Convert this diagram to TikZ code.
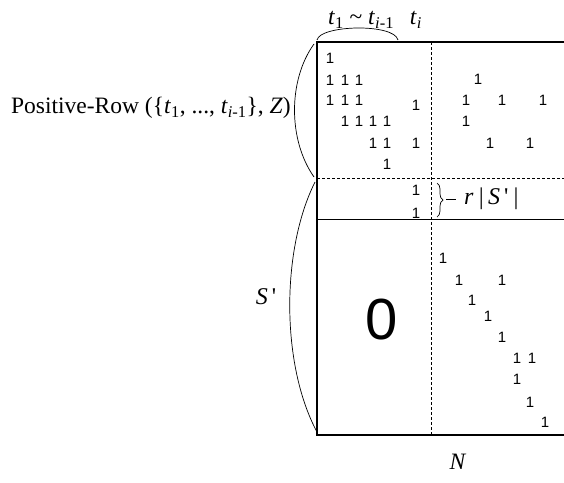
\documentclass[tikz,border=0pt]{standalone}
\usepackage{fontspec}
\setmainfont{Liberation Serif}
\newfontfamily\onesfont{Liberation Sans}
\usetikzlibrary{decorations.pathreplacing}
\newcommand{\sub}[1]{\textsubscript{#1}}
\newcommand{\prm}{\,\textup{\textquotesingle}}
\tikzset{
  mbox/.style={line width=2pt},
  mdash/.style={dash pattern=on 3pt off 2pt, line width=0.8pt},
  msep/.style={line width=1pt},
  paren/.style={line width=0.7pt},
  one/.style={font=\onesfont\fontsize{15}{16}\selectfont, inner sep=0pt},
  lab/.style={font=\fontsize{23.5}{25}\selectfont, inner sep=0pt},
  biglab/.style={font=\fontsize{24}{26}\selectfont\itshape, inner sep=0pt},
}
\begin{document}
\begin{tikzpicture}[x=1pt,y=-1pt]
\useasboundingbox (0,0) rectangle (564,482);
% matrix frame
\coordinate (mtl) at (317,42);  \coordinate (mtr) at (564,42);
\coordinate (mbl) at (317,435); \coordinate (mbr) at (564,435);
\coordinate (vt) at (431,42);   \coordinate (vb) at (431,435);
\coordinate (dl) at (317,178);  \coordinate (dr) at (564,178);
\coordinate (sl) at (317,219);  \coordinate (sr) at (564,219);
\draw[mdash] (vt) -- (vb);
\draw[mdash] (dl) -- (dr);
\draw[msep] (sl) -- (sr);
\draw[mbox] (mtr) -- (mtl) -- (mbl) -- (mbr);
% entries
\foreach \p [count=\k] in {(330,58),(330,80),(345,80),(359,80),(330,100),(345,100),(359,100),
    (416,105),(345,121),(359,121),(373,121),(387,121),(373,143),(387,143),(416,143),(387,164),
    (478,79),(466,100),(502,100),(543,100),(466,121),(490,143),(530,143),
    (416,190),(416,213),
    (443,258),(459,280),(502,280),(472,300),(488,316),(502,337),(517,358),(532,358),
    (517,379),(530,402),(545,422)}
  \node[one] (one\k) at \p {1};
\node[font=\onesfont\fontsize{58}{58}\selectfont, inner sep=0pt] (zero) at (382,320) {0};
% column labels
\coordinate (al) at (317,40); \coordinate (ar) at (398,40);
\draw[paren] (al) .. controls (320,25) and (394,23) .. (ar);
\node[lab] (tcols) at (361,20) {\textit{t}\sub{1} \textasciitilde{} \textit{t}\sub{\textit{i}-1}};
\node[lab] (ti) at (416,20) {\textit{t}\sub{\textit{i}}};
\node[lab] (ncol) at (458,462) {\textit{N}};
% row labels
\coordinate (p1t) at (314,44);  \coordinate (p1b) at (314,177);
\coordinate (p2t) at (315,182); \coordinate (p2b) at (317,432);
\draw[paren] (p1t) .. controls (288,80) and (288,140) .. (p1b);
\draw[paren] (p2t) .. controls (281,250) and (281,365) .. (p2b);
\node[lab, anchor=east] (prow) at (291,108)
  {Positive-Row (\{\textit{t}\sub{1}, ..., \textit{t}\sub{\textit{i}-1}\}, \textit{Z})};
\node[biglab] (sp) at (266,297) {S\prm};
% r|S'| band
\coordinate (bt) at (437,183); \coordinate (bb) at (437,217);
\draw[paren, decorate, decoration={brace, amplitude=6pt}] (bt) -- (bb)
  coordinate[pos=0.5, xshift=7pt] (btip);
\node[biglab, anchor=west] (rs) at (464,199) {r\,|\,S\prm\,|};
\draw[line width=1pt] (446,199) -- (456,199);
\end{tikzpicture}
\end{document}
